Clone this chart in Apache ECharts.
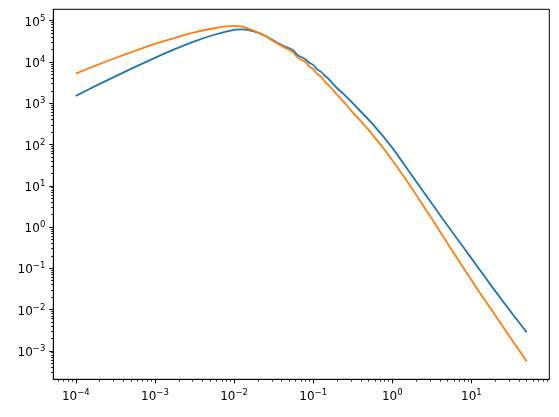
<!DOCTYPE html>
<html>
<head>
<meta charset="utf-8">
<script src="https://cdn.jsdelivr.net/npm/echarts@6/dist/echarts.min.js"></script>
<style>
html,body{margin:0;padding:0;background:#fff;}
#c{width:559px;height:417px;}
</style>
</head>
<body>
<div id="c"></div>
<script>
// wavenumber k
const k = [0.0001, 0.000178, 0.000316, 0.000562, 0.001, 0.00178, 0.00316, 0.00562, 0.01, 0.0126, 0.0178, 0.0251, 0.0316, 0.0398, 0.0501, 0.0562, 0.0631, 0.0794, 0.0891, 0.1, 0.112, 0.126, 0.141, 0.158, 0.2, 0.251, 0.316, 0.562, 1, 1.78, 3.16, 5.62, 10, 17.8, 31.6, 50];
// series 1 (blue)
const pBlue = [1510, 2630, 4470, 7590, 12600, 20400, 31600, 45700, 60300, 61700, 55000, 42700, 33100, 25700, 21400, 19100, 14800, 11700, 9550, 8510, 6610, 5750, 4570, 3800, 2340, 1580, 1000, 316, 83, 17.4, 3.7, 0.79, 0.174, 0.038, 0.0087, 0.0028];
// series 2 (orange)
const pOrange = [5210, 8170, 12500, 18700, 27400, 38600, 52100, 65600, 75000, 71600, 57500, 41700, 31600, 24500, 19500, 17000, 12900, 10000, 7760, 6760, 5130, 4370, 3310, 2690, 1620, 1000, 603, 174, 41.7, 8.5, 1.58, 0.282, 0.0513, 0.01, 0.002, 0.00055];
// tick labels
const xMajor = [1e-4, 1e-3, 1e-2, 1e-1, 1, 10];
const yMajor = [1e-3, 1e-2, 1e-1, 1, 10, 100, 1000, 1e4, 1e5];

const xMin = 5.19e-5, xMax = 96.4;
const yMin = 2.04e-4, yMax = 1.89e5;

function minors(lo, hi) {
  const out = [];
  for (let e = lo; e <= hi; e++) {
    for (let m = 2; m <= 9; m++) out.push(m * Math.pow(10, e));
  }
  return out;
}
const xMinor = minors(-5, 1).filter(v => v > xMin && v < xMax);
const yMinor = minors(-4, 5).filter(v => v > yMin && v < yMax);

function fmt(v) {
  const e = Math.round(Math.log10(v));
  const s = (e < 0 ? '\u2212' + (-e) : '' + e);
  return '{b|10}{s|' + s + '}';
}
const FONT = 'DejaVu Sans';
const rich = {
  b: {fontSize: 12, fontFamily: FONT, color: '#000'},
  s: {fontSize: 8.5, fontFamily: FONT, color: '#000', padding: [0, 0, 8, 0]}
};

function axisPair(dim, min, max, major, minor) {
  const isX = dim === 'x';
  const base = {
    type: 'log', logBase: 10, min: min, max: max,
    position: isX ? 'bottom' : 'left',
    splitLine: {show: false},
    minorTick: {show: false},
    minorSplitLine: {show: false}
  };
  return [
    Object.assign({}, base, {
      axisLine: {show: true, lineStyle: {color: '#000', width: 1}},
      axisTick: {show: true, length: 4, lineStyle: {color: '#000', width: 1}, customValues: major},
      axisLabel: {show: true, customValues: major, formatter: fmt, rich: rich,
        margin: isX ? 9 : 8, padding: isX ? [0, 0, 0, 0] : [4, 0, 0, 0]}
    }),
    Object.assign({}, base, {
      axisLine: {show: false},
      axisTick: {show: true, length: 2.4, lineStyle: {color: '#000', width: 0.8}, customValues: minor},
      axisLabel: {show: false}
    })
  ];
}

const chart = echarts.init(document.getElementById('c'), null, {renderer: 'canvas'});
chart.setOption({
  animation: false,
  backgroundColor: '#fff',
  grid: {left: 53.3, right: 9.7, top: 9.3, bottom: 37.7, show: true, borderColor: '#000', borderWidth: 1, containLabel: false},
  xAxis: axisPair('x', xMin, xMax, xMajor, xMinor),
  yAxis: axisPair('y', yMin, yMax, yMajor, yMinor),
  series: [
    {type: 'line', xAxisIndex: 0, yAxisIndex: 0, data: k.map((x, i) => [x, pBlue[i]]),
      showSymbol: false, smooth: 0.25, lineStyle: {color: '#1f77b4', width: 1.8}, itemStyle: {color: '#1f77b4'}},
    {type: 'line', xAxisIndex: 0, yAxisIndex: 0, data: k.map((x, i) => [x, pOrange[i]]),
      showSymbol: false, smooth: 0.25, lineStyle: {color: '#ff7f0e', width: 1.8}, itemStyle: {color: '#ff7f0e'}}
  ]
});
</script>
</body>
</html>
